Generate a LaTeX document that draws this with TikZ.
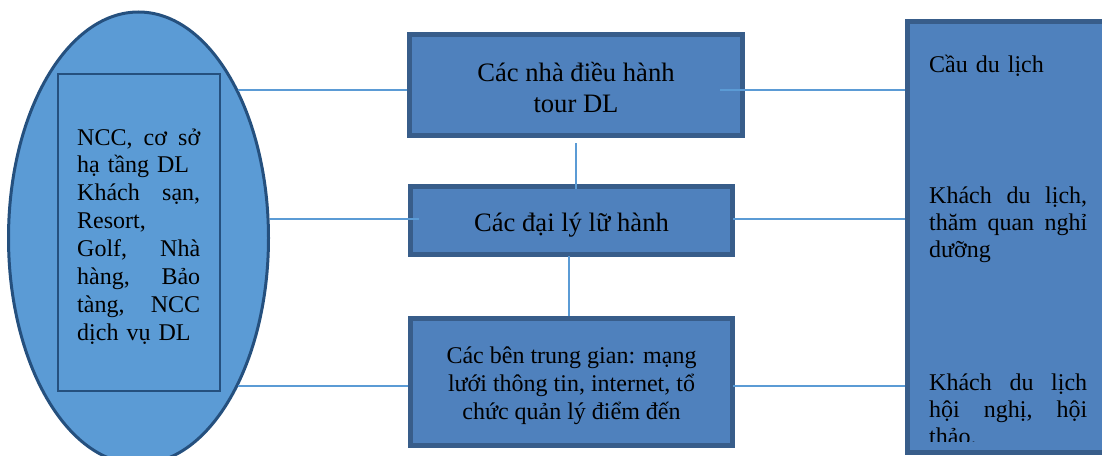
\documentclass[tikz,border=0pt]{standalone}
\usepackage{fontspec}
\setmainfont{Liberation Serif}
\usetikzlibrary{shapes.geometric}
\definecolor{boxfill}{HTML}{4F81BD}
\definecolor{boxline}{HTML}{385D8A}
\definecolor{ellfill}{HTML}{5B9BD5}
\definecolor{ellline}{HTML}{25507E}
\definecolor{conn}{HTML}{5B9BD5}
\begin{document}
\begin{tikzpicture}[x=1pt,y=-1pt,
  mainbox/.style={draw=boxline, fill=boxfill, line width=5pt, inner sep=0pt},
  bigtext/.style={font=\fontsize{26.6}{31}\selectfont, align=center, inner sep=0pt},
  midtext/.style={font=\fontsize{24}{28.2}\selectfont, align=center, inner sep=0pt},
  sidetext/.style={font=\fontsize{24}{27.4}\selectfont, text width=158pt, align=left, inner sep=0pt, anchor=base west},
  link/.style={draw=conn, line width=1.8pt}]
\useasboundingbox (0,0) rectangle (1102,455);
\fill[white] (0,0) rectangle (1102,455);
\begin{scope}
\clip (0,0) rectangle (1102,455);
% left ellipse
\node[ellipse, draw=ellline, fill=ellfill, line width=3pt, minimum width=260pt, minimum height=452pt, inner sep=0pt] (ell) at (138.5,238) {};
\node[draw=ellline, line width=2.5pt, minimum width=162pt, minimum height=317pt, inner sep=0pt] (inner) at (139,232.5) {};
\node[font=\fontsize{24}{27.86}\selectfont, text width=123pt, align=left, inner sep=0pt, anchor=base west] (ltxt) at (77,145)
  {NCC,\hfill cơ\hfill sở\\
   hạ tầng DL\\
   Khách\hfill sạn,\\
   Resort,\\
   Golf,\hfill Nhà\\
   hàng,\hfill Bảo\\
   tàng,\hfill NCC\\
   dịch vụ DL};
% right rectangle
\node[draw=boxline, fill=boxfill, line width=5pt, minimum width=204.5pt, minimum height=431pt, inner sep=0pt] (right) at (1009.75,237) {};
\begin{scope}
\clip (911,25) rectangle (1102,441);
\node[sidetext] (r1) at (929,72) {Cầu du lịch};
\node[sidetext] (r2) at (929,203) {Khách\hfill du\hfill lịch,\\ thăm\hfill quan\hfill nghỉ\\ dưỡng};
\node[sidetext] (r3) at (929,390) {Khách\hfill du\hfill lịch\\ hội\hfill nghị,\hfill hội\\ thảo.};
\end{scope}
% middle boxes
\node[mainbox, minimum width=333pt, minimum height=101pt] (box1) at (576,85) {};
\node[mainbox, minimum width=322pt, minimum height=68pt] (box2) at (571.5,220.5) {};
\node[mainbox, minimum width=322pt, minimum height=127pt] (box3) at (571.5,382) {};
\node[bigtext] (t1) at ([yshift=-2.5pt]box1.center) {Các nhà điều hành\\ tour DL};
\node[bigtext] (t2) at ([yshift=-4.5pt]box2.center) {Các đại lý lữ hành};
\node[midtext] (t3) at ([yshift=-4pt]box3.center) {Các bên trung gian: mạng\\ lưới thông tin, internet, tổ\\ chức quản lý điểm đến};
% connectors
\coordinate (c1) at (720,90);
\coordinate (c2a) at (419,219);
\coordinate (c2b) at (733,219);
\coordinate (c3) at (733,386);
\coordinate (v2) at (569,256);
\draw[link] (ell.56.4) -- (ell.56.4 -| box1.west);
\draw[link] (c1) -- (c1 -| right.west);
\draw[link] (c2a -| ell.8.3) -- (c2a);
\draw[link] (c2b) -- (c2b -| right.west);
\draw[link] (ell.-56.4) -- (ell.-56.4 -| box3.west);
\draw[link] (c3) -- (c3 -| right.west);
\draw[link] ([yshift=-5pt]box1.south) -- ([yshift=-5pt]box1.south |- box2.north);
\draw[link] (v2) -- (v2 |- box3.north);
\end{scope}
\end{tikzpicture}
\end{document}
